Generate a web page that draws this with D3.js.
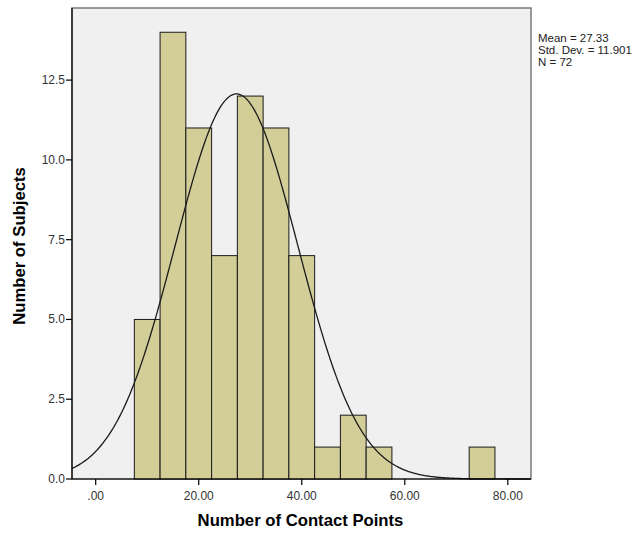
<!DOCTYPE html>
<html>
<head>
<meta charset="utf-8">
<script src="https://cdn.jsdelivr.net/npm/d3@7"></script>
<style>
  body { margin: 0; background: #fff; }
  text { font-family: "Liberation Sans", Arial, sans-serif; }
</style>
</head>
<body>
<div id="chart"></div>
<script>
// histogram of contact points, with normal curve
const binStarts = [7.5, 12.5, 17.5, 22.5, 27.5, 32.5, 37.5, 42.5, 47.5, 52.5, 72.5];
const binCounts = [5, 14, 11, 7, 12, 11, 7, 1, 2, 1, 1];
const binWidth = 5;
const xTicks = [0, 20, 40, 60, 80];
const yTicks = [0, 2.5, 5, 7.5, 10, 12.5];
const mean = 27.33, sd = 11.901, n = 72;
const statLines = ["Mean = 27.33", "Std. Dev. = 11.901", "N = 72"];

const width = 643, height = 534;
const plotL = 72, plotR = 531, plotT = 8, plotB = 479;

const svg = d3.select("#chart").append("svg")
    .attr("width", width)
    .attr("height", height)

const x = d3.scaleLinear().domain([-4.6, 84.5]).range([plotL, plotR]);
const y = d3.scaleLinear().domain([0, 14.76]).range([plotB, plotT]);

svg.append("rect")
    .attr("x", plotL).attr("y", plotT)
    .attr("width", plotR - plotL).attr("height", plotB - plotT)
    .attr("fill", "#f0f0f0")
    .attr("stroke", "#7a7a7a")
    .attr("stroke-width", 1.5)

const bins = binStarts.map((s, i) => ({ x0: s, x1: s + binWidth, c: binCounts[i] }));
svg.append("g").selectAll("rect")
    .data(bins)
    .enter()
    .append("rect")
    .attr("x", d => x(d.x0))
    .attr("y", d => y(d.c))
    .attr("width", d => x(d.x1) - x(d.x0))
    .attr("height", d => y(0) - y(d.c))
    .attr("fill", "#d3ce98")
    .attr("stroke", "#1a1a1a")
    .attr("stroke-width", 1)

// fitted normal curve scaled to counts
const xs = d3.range(-4.6, 84.51, 0.25);
const curve = xs.map(v => [v, n * binWidth * Math.exp(-0.5 * ((v - mean) / sd) ** 2) / (sd * Math.sqrt(2 * Math.PI))]);
svg.append("path")
    .datum(curve)
    .attr("d", d3.line().x(d => x(d[0])).y(d => y(d[1])))
    .attr("fill", "none")
    .attr("stroke", "#1a1a1a")
    .attr("stroke-width", 1.3)

// axes lines
svg.append("line")
    .attr("x1", plotL).attr("x2", plotL).attr("y1", plotT).attr("y2", plotB)
    .attr("stroke", "#000").attr("stroke-width", 1.2)
svg.append("line")
    .attr("x1", plotL).attr("x2", plotR).attr("y1", plotB).attr("y2", plotB)
    .attr("stroke", "#000").attr("stroke-width", 1.2)

const yAxis = svg.append("g")
yAxis.selectAll("line")
    .data(yTicks).enter().append("line")
    .attr("x1", plotL - 6).attr("x2", plotL)
    .attr("y1", d => y(d)).attr("y2", d => y(d))
    .attr("stroke", "#000").attr("stroke-width", 1.2)
yAxis.selectAll("text")
    .data(yTicks).enter().append("text")
    .attr("x", plotL - 7).attr("y", d => y(d) + 4)
    .attr("text-anchor", "end")
    .attr("font-size", 12)
    .attr("fill", "#333")
    .text(d => d.toFixed(1))

const xAxis = svg.append("g")
xAxis.selectAll("line")
    .data(xTicks).enter().append("line")
    .attr("x1", d => x(d)).attr("x2", d => x(d))
    .attr("y1", plotB).attr("y2", plotB + 6)
    .attr("stroke", "#000").attr("stroke-width", 1.2)
xAxis.selectAll("text")
    .data(xTicks).enter().append("text")
    .attr("x", d => x(d)).attr("y", plotB + 21)
    .attr("text-anchor", "middle")
    .attr("font-size", 12)
    .attr("fill", "#333")
    .text(d => d === 0 ? ".00" : d.toFixed(2))

svg.append("text")
    .attr("x", 300.5).attr("y", 526)
    .attr("text-anchor", "middle")
    .attr("font-size", 16.7).attr("font-weight", "bold")
    .text("Number of Contact Points")

svg.append("text")
    .attr("transform", "translate(25,246) rotate(-90)")
    .attr("text-anchor", "middle")
    .attr("font-size", 16.7).attr("font-weight", "bold")
    .text("Number of Subjects")

svg.append("g").selectAll("text")
    .data(statLines).enter().append("text")
    .attr("x", 538).attr("y", (d, i) => 42 + i * 12)
    .attr("font-size", 11.5)
    .attr("fill", "#222")
    .text(d => d)
</script>
</body>
</html>
